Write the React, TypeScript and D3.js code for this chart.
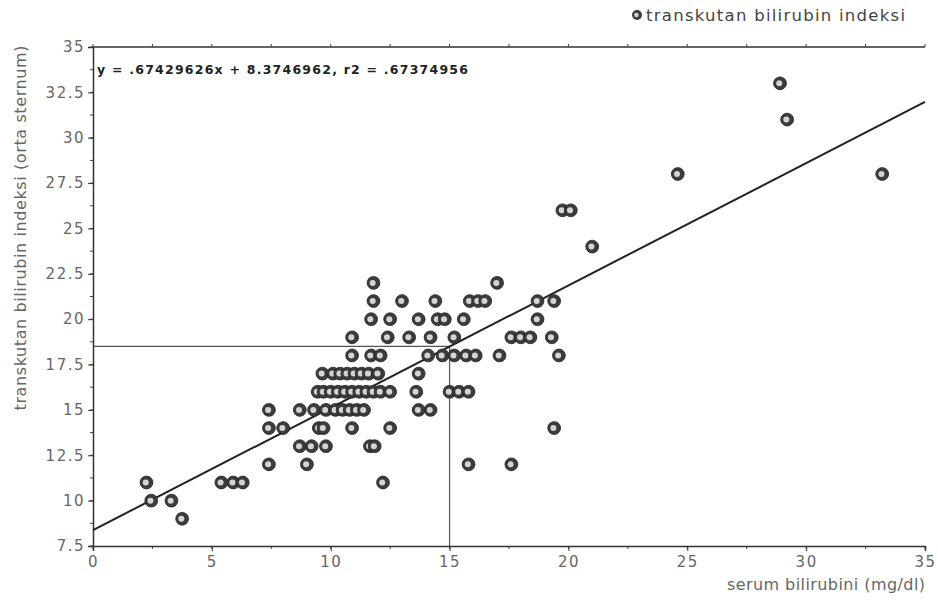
import { useEffect, useRef } from "react";
import * as d3 from "d3";

// rows of transcutaneous index values and the serum values sitting on each row
const rowValues = [9, 10, 11, 12, 13, 14, 15, 16, 17, 18, 19, 20, 21, 22, 24, 26, 28, 31, 33];
const rowSerum: number[][] = [
  [3.75],
  [2.45, 3.3],
  [2.25, 5.4, 5.9, 6.3, 12.2],
  [7.4, 9.0, 15.8, 17.6],
  [8.7, 9.2, 9.8, 11.65, 11.85],
  [7.4, 8.0, 9.5, 9.7, 10.9, 12.5, 19.4],
  [7.4, 8.7, 9.3, 9.8, 10.2, 10.5, 10.8, 11.1, 11.4, 13.7, 14.2],
  [9.45, 9.7, 10.0, 10.3, 10.6, 10.9, 11.2, 11.5, 11.8, 12.1, 12.5, 13.6, 15.0, 15.4, 15.8],
  [9.65, 10.1, 10.4, 10.7, 11.0, 11.3, 11.6, 12.0, 13.7],
  [10.9, 11.7, 12.1, 14.1, 14.7, 15.2, 15.7, 16.1, 17.1, 19.6],
  [10.9, 12.4, 13.3, 14.2, 15.2, 17.6, 18.0, 18.4, 19.3],
  [11.7, 12.5, 13.7, 14.5, 14.8, 15.6, 18.7],
  [11.8, 13.0, 14.4, 15.85, 16.2, 16.5, 18.7, 19.4],
  [11.8, 17.0],
  [21.0],
  [19.75, 20.1],
  [24.6, 33.2],
  [29.2],
  [28.9],
];

const xTicks = [0, 5, 10, 15, 20, 25, 30, 35];
const yTicks = [7.5, 10, 12.5, 15, 17.5, 20, 22.5, 25, 27.5, 30, 32.5, 35];
const slope = 0.67429626;
const intercept = 8.3746962;
const cutX = 15;
const cutY = 18.5;

const W = 938;
const H = 601;
const FONT = "'DejaVu Sans', 'Liberation Sans', Arial, sans-serif";

export default function App() {
  const svgRef = useRef<SVGSVGElement>(null);

  useEffect(() => {
    if (!svgRef.current) return;
    const svg = d3.select(svgRef.current);
    svg.selectAll("*").remove();

    const x = d3.scaleLinear().domain([0, 35]).range([93, 925]);
    const y = d3.scaleLinear().domain([7.5, 35]).range([546, 47]);

    const points = rowValues.flatMap((v, i) => rowSerum[i].map((s) => ({ s, v })));

    // reference lines at the cut-off
    svg.append("path")
      .attr("d", `M${x(0)},${y(cutY)}H${x(cutX)}V${y(7.5)}`)
      .attr("fill", "none")
      .attr("stroke", "#555")
      .attr("stroke-width", 1.2);

    const axisStyle = (g: any) => {
      g.select(".domain").attr("stroke", "#333").attr("stroke-width", 1.5);
      g.selectAll(".tick line").attr("stroke", "#333");
      g.selectAll(".tick text")
        .attr("fill", "#666")
        .attr("font-size", "15px")
        .attr("letter-spacing", "1.5px")
        .attr("font-family", FONT);
    };

    // minor ticks
    const minorX = d3.range(0, 35.01, 2.5);
    const minorY = d3.range(7.5, 35.01, 1.25);
    svg.append("g").selectAll("line").data(minorX).enter().append("line")
      .attr("x1", (d) => x(d)).attr("x2", (d) => x(d))
      .attr("y1", y(7.5)).attr("y2", y(7.5) + 3)
      .attr("stroke", "#444");
    svg.append("g").selectAll("line").data(minorX).enter().append("line")
      .attr("x1", (d) => x(d)).attr("x2", (d) => x(d))
      .attr("y1", y(35)).attr("y2", y(35) - 3)
      .attr("stroke", "#444");
    svg.append("g").selectAll("line").data(minorY).enter().append("line")
      .attr("x1", x(0) - 3).attr("x2", x(0))
      .attr("y1", (d) => y(d)).attr("y2", (d) => y(d))
      .attr("stroke", "#444");

    svg.append("g")
      .attr("transform", `translate(0,${y(7.5)})`)
      .call(d3.axisBottom(x).tickValues(xTicks).tickSize(5).tickPadding(5).tickFormat((d) => String(d)))
      .call(axisStyle);

    svg.append("g")
      .attr("transform", `translate(${x(0)},0)`)
      .call(d3.axisLeft(y).tickValues(yTicks).tickSize(5).tickPadding(3).tickFormat((d) => String(d)))
      .call(axisStyle);

    // top border
    svg.append("line")
      .attr("x1", x(0)).attr("x2", x(35))
      .attr("y1", y(35)).attr("y2", y(35))
      .attr("stroke", "#333").attr("stroke-width", 1.5);

    // regression line
    const fit = d3.line<number>()
      .x((d) => x(d))
      .y((d) => y(slope * d + intercept));
    svg.append("path")
      .datum([0, 35])
      .attr("fill", "none")
      .attr("stroke", "#222")
      .attr("stroke-width", 2)
      .attr("d", fit);

    // points
    const dots = svg.append("g").selectAll("g").data(points).enter().append("g")
      .attr("transform", (d) => `translate(${x(d.s)},${y(d.v)})`);
    dots.append("circle").attr("r", 6.4).attr("fill", "#3c3c3c").attr("stroke", "#222").attr("stroke-width", 0.8);
    dots.append("circle").attr("cx", -0.8).attr("r", 3).attr("fill", "#d4d4d4");

    // equation
    svg.append("text")
      .attr("x", 97).attr("y", 74)
      .attr("fill", "#222")
      .attr("font-size", "12.5px")
      .attr("font-weight", "bold")
      .attr("font-family", FONT)
      .attr("textLength", 371)
      .text("y = .67429626x + 8.3746962, r2 = .67374956");

    // axis titles
    svg.append("text")
      .attr("x", 925).attr("y", 590)
      .attr("text-anchor", "end")
      .attr("fill", "#666")
      .attr("font-size", "16px")
      .attr("font-family", FONT)
      .attr("textLength", 198)
      .text("serum bilirubini (mg/dl)");

    svg.append("text")
      .attr("transform", `translate(26,228) rotate(-90)`)
      .attr("text-anchor", "middle")
      .attr("fill", "#666")
      .attr("font-size", "16px")
      .attr("font-family", FONT)
      .attr("textLength", 365)
      .text("transkutan bilirubin indeksi (orta sternum)");

    // legend
    const leg = svg.append("g").attr("transform", "translate(637,15)");
    leg.append("circle").attr("r", 5).attr("fill", "#3c3c3c");
    leg.append("circle").attr("cx", -0.6).attr("r", 2.3).attr("fill", "#d4d4d4");
    svg.append("text")
      .attr("x", 646).attr("y", 21)
      .attr("fill", "#444")
      .attr("font-size", "16.5px")
      .attr("font-family", FONT)
      .attr("textLength", 259)
      .text("transkutan bilirubin indeksi");
  }, []);

  return (
    <svg
      ref={svgRef}
      width={W}
      height={H}
      style={{ position: "absolute", left: 0, top: 0, background: "#fff" }}
    />
  );
}
